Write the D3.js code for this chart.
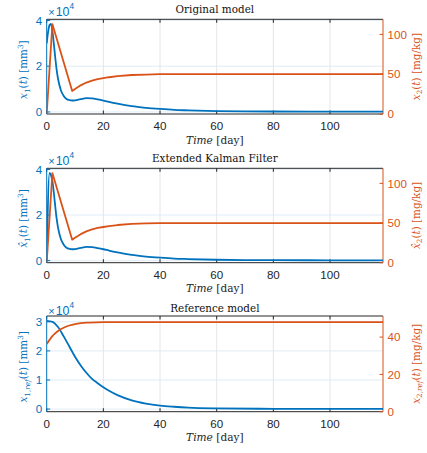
<!DOCTYPE html>
<html><head><meta charset="utf-8">
<script src="https://cdn.jsdelivr.net/npm/d3@7"></script>
<style>html,body{margin:0;padding:0;background:#fff}svg{display:block}</style>
</head><body>
<script>
// ---------- data ----------
const xTickValues = [0, 20, 40, 60, 80, 100];
const titles = ["Original model", "Extended Kalman Filter", "Reference model"];

// Original model
const origT1 = [0,0.5,1,1.5,2,2.5,3,3.5,4,5,6,7,8,9,10,12,14,16,18,20,22,25,30,35,40,45,50,60,70,80,100,118.7];
const origX1 = [30000,35000,38000,38500,35500,30000,24000,18500,14500,9500,7000,5700,5200,5000,5100,5600,6000,5900,5500,5000,4400,3600,2500,1800,1300,900,700,400,250,200,150,100];
const origT2 = [0,2,9,10,12,14,16,18,20,22,25,30,35,40,50,118.7];
const origX2 = [0,113,29,31.5,36,39.5,42,43.8,45,46.2,47.5,49,49.6,50,50,50];

// Extended Kalman Filter
const ekfT1 = [0,1,1.5,2,2.5,3,3.5,4,5,6,7,8,9,10,12,14,16,18,20,22,25,30,35,40,45,50,60,70,80,100,118.7];
const ekfX1 = [0,38500,37500,35000,30000,24000,18500,14500,9500,7000,5700,5200,5000,5100,5600,6000,5900,5500,5000,4400,3600,2500,1800,1300,900,700,400,250,200,150,100];
const ekfT2 = [0,2,9,10,12,14,16,18,20,22,25,30,35,40,50,118.7];
const ekfX2 = [0,113,29,31.5,36,39.5,42,43.8,45,46.2,47.5,49,49.6,50,50,50];

// Reference model
const refT1 = [0,2,4,6,8,10,12,14,16,18,20,22,25,30,35,40,45,50,60,80,118.7];
const refX1 = [30300,30000,28200,25000,21500,18000,15000,12500,10400,8900,7500,6300,4800,3000,1900,1200,800,500,250,100,100];
const refT2 = [0,1,2,3,4,6,8,10,12,15,20,30,118.7];
const refX2 = [36.3,38.5,40.5,42,43.3,45,46.2,47,47.5,47.8,48,48,48];

const leftTicksAB = [0, 20000, 40000];
const rightTicksAB = [0, 50, 100];
const leftTicksC = [0, 10000, 20000, 30000];
const rightTicksC = [0, 20, 40];

// label pieces: i = italic, p = position (sub/sup)
const leftLabels = [
  [{t:"x",i:1},{t:"1",p:"sub"},{t:"("},{t:"t",i:1},{t:") [mm"},{t:"3",p:"sup"},{t:"]"}],
  [{t:"x\u0302",i:1},{t:"1",p:"sub"},{t:"("},{t:"t",i:1},{t:") [mm"},{t:"3",p:"sup"},{t:"]"}],
  [{t:"x",i:1},{t:"1,",p:"sub"},{t:"ref",p:"sub",i:1},{t:"("},{t:"t",i:1},{t:") [mm"},{t:"3",p:"sup"},{t:"]"}]
];
const rightLabels = [
  [{t:"x",i:1},{t:"2",p:"sub"},{t:"("},{t:"t",i:1},{t:") [mg/kg]"}],
  [{t:"x\u0302",i:1},{t:"2",p:"sub"},{t:"("},{t:"t",i:1},{t:") [mg/kg]"}],
  [{t:"x",i:1},{t:"2,",p:"sub"},{t:"ref",p:"sub",i:1},{t:"("},{t:"t",i:1},{t:") [mg/kg]"}]
];

// ---------- drawing ----------
const W = 427, H = 453;
const BLUE = "#0072BD", ORANGE = "#D95319", DARK = "#262626";
const SANS = "'Liberation Sans', Arial, sans-serif";
const SERIF = "'DejaVu Serif', serif";
const plotL = 46.7, plotR = 383;

const panels = [
  {top:19.3, bottom:114, t1:origT1, y1:origX1, t2:origT2, y2:origX2, ld:[-900,40500], rd:[0,119], lt:leftTicksAB, rt:rightTicksAB, titleOff:6, expOff:3},
  {top:168.3, bottom:262.7, t1:ekfT1, y1:ekfX1, t2:ekfT2, y2:ekfX2, ld:[-900,40500], rd:[0,119], lt:leftTicksAB, rt:rightTicksAB, titleOff:6, expOff:3},
  {top:316, bottom:411.7, t1:refT1, y1:refX1, t2:refT2, y2:refX2, ld:[-900,32000], rd:[0,51.3], lt:leftTicksC, rt:rightTicksC, titleOff:4.5, expOff:1}
];

const svg = d3.select("body").append("svg").attr("width", W).attr("height", H);
svg.append("rect").attr("width", W).attr("height", H).attr("fill", "#fff");

const x = d3.scaleLinear().domain([0, 118.7]).range([plotL, plotR]);

function rich(sel, parts, fs) {
  let shift = 0;
  parts.forEach(p => {
    const target = p.p === "sub" ? fs * 0.28 : p.p === "sup" ? -fs * 0.4 : 0;
    sel.append("tspan").text(p.t)
      .attr("dy", target - shift)
      .attr("font-size", p.p ? fs * 0.7 : fs)
      .attr("font-style", p.i ? "italic" : "normal");
    shift = target;
  });
}

panels.forEach((P, k) => {
  const g = svg.append("g");
  const yl = d3.scaleLinear().domain(P.ld).range([P.bottom, P.top]);
  const yr = d3.scaleLinear().domain(P.rd).range([P.bottom, P.top]);
  const midX = (plotL + plotR) / 2, midY = (P.top + P.bottom) / 2;

  // grid
  g.selectAll(".vg").data(xTickValues.slice(1)).join("line")
    .attr("x1", d => x(d)).attr("x2", d => x(d)).attr("y1", P.top).attr("y2", P.bottom)
    .attr("stroke", "#dfdfdf").attr("stroke-width", 0.8);
  g.selectAll(".hg").data(P.lt).join("line")
    .attr("x1", plotL).attr("x2", plotR).attr("y1", d => yl(d)).attr("y2", d => yl(d))
    .attr("stroke", "#d8e9f5").attr("stroke-width", 0.8);

  // box: top & bottom
  [P.top, P.bottom].forEach(yy => g.append("line").attr("x1", plotL).attr("x2", plotR)
    .attr("y1", yy).attr("y2", yy).attr("stroke", DARK).attr("stroke-width", 1));
  // x ticks (inward, top and bottom)
  xTickValues.forEach(d => {
    g.append("line").attr("x1", x(d)).attr("x2", x(d)).attr("y1", P.bottom).attr("y2", P.bottom - 3.5).attr("stroke", DARK);
    g.append("line").attr("x1", x(d)).attr("x2", x(d)).attr("y1", P.top).attr("y2", P.top + 3.5).attr("stroke", DARK);
  });
  // left & right axes
  g.append("line").attr("x1", plotL).attr("x2", plotL).attr("y1", P.top).attr("y2", P.bottom).attr("stroke", BLUE);
  g.append("line").attr("x1", plotR).attr("x2", plotR).attr("y1", P.top).attr("y2", P.bottom).attr("stroke", ORANGE);
  P.lt.forEach(d => g.append("line").attr("x1", plotL).attr("x2", plotL + 3.5).attr("y1", yl(d)).attr("y2", yl(d)).attr("stroke", BLUE));
  P.rt.forEach(d => g.append("line").attr("x1", plotR).attr("x2", plotR - 3.5).attr("y1", yr(d)).attr("y2", yr(d)).attr("stroke", ORANGE));

  // tick labels
  g.selectAll(".xt").data(xTickValues).join("text")
    .attr("x", d => x(d)).attr("y", P.bottom + 16).attr("text-anchor", "middle")
    .attr("font-family", SANS).attr("font-size", 11.6).attr("fill", DARK).text(d => d);
  g.selectAll(".lt").data(P.lt).join("text")
    .attr("x", plotL - 4.5).attr("y", d => yl(d)).attr("dy", "0.36em").attr("text-anchor", "end")
    .attr("font-family", SANS).attr("font-size", 11.6).attr("fill", BLUE).text(d => d / 10000);
  g.selectAll(".rt").data(P.rt).join("text")
    .attr("x", plotR + 4.5).attr("y", d => yr(d)).attr("dy", "0.36em").attr("text-anchor", "start")
    .attr("font-family", SANS).attr("font-size", 11.6).attr("fill", ORANGE).text(d => d);

  // exponent
  const ex = g.append("text").attr("x", plotL + 1.5).attr("y", P.top - P.expOff)
    .attr("font-family", SANS).attr("font-size", 12.4).attr("fill", BLUE);
  ex.append("tspan").text("\u00D7").attr("font-size", 11);
  ex.append("tspan").text("10").attr("dx", 1);
  ex.append("tspan").text("4").attr("font-size", 8.3).attr("dy", -7);

  // title
  g.append("text").attr("x", midX).attr("y", P.top - P.titleOff).attr("text-anchor", "middle")
    .attr("font-family", SERIF).attr("font-size", 10.4).attr("fill", "#111").text(titles[k]);

  // x label
  const xl = g.append("text").attr("x", midX).attr("y", P.bottom + 29.5).attr("text-anchor", "middle")
    .attr("font-family", SERIF).attr("fill", DARK);
  rich(xl, [{t:"Time",i:1},{t:" [day]"}], 10.6);

  // y labels
  const ylab = g.append("text").attr("transform", `translate(27,${midY + 3}) rotate(-90)`)
    .attr("text-anchor", "middle").attr("font-family", SERIF).attr("fill", BLUE);
  rich(ylab, leftLabels[k], 10.4);
  const yrlab = g.append("text").attr("transform", `translate(419.5,${midY}) rotate(-90)`)
    .attr("text-anchor", "middle").attr("font-family", SERIF).attr("fill", ORANGE);
  rich(yrlab, rightLabels[k], 10.4);

  // clip
  const cid = "clip" + k;
  svg.append("clipPath").attr("id", cid).append("rect")
    .attr("x", plotL).attr("y", P.top).attr("width", plotR - plotL).attr("height", P.bottom - P.top);

  const lines = g.append("g").attr("clip-path", `url(#${cid})`);
  const blueLine = d3.line().x(i => x(P.t1[i])).y(i => yl(P.y1[i])).curve(d3.curveMonotoneX);
  const orangeLine = d3.line().x(i => x(P.t2[i])).y(i => yr(P.y2[i]))
    .curve(k === 2 ? d3.curveMonotoneX : d3.curveLinear);
  lines.append("path").attr("d", blueLine(d3.range(P.t1.length)))
    .attr("fill", "none").attr("stroke", BLUE).attr("stroke-width", 1.8).attr("stroke-linejoin", "round");
  lines.append("path").attr("d", orangeLine(d3.range(P.t2.length)))
    .attr("fill", "none").attr("stroke", ORANGE).attr("stroke-width", 1.8).attr("stroke-linejoin", "round");
});
</script>
</body></html>
